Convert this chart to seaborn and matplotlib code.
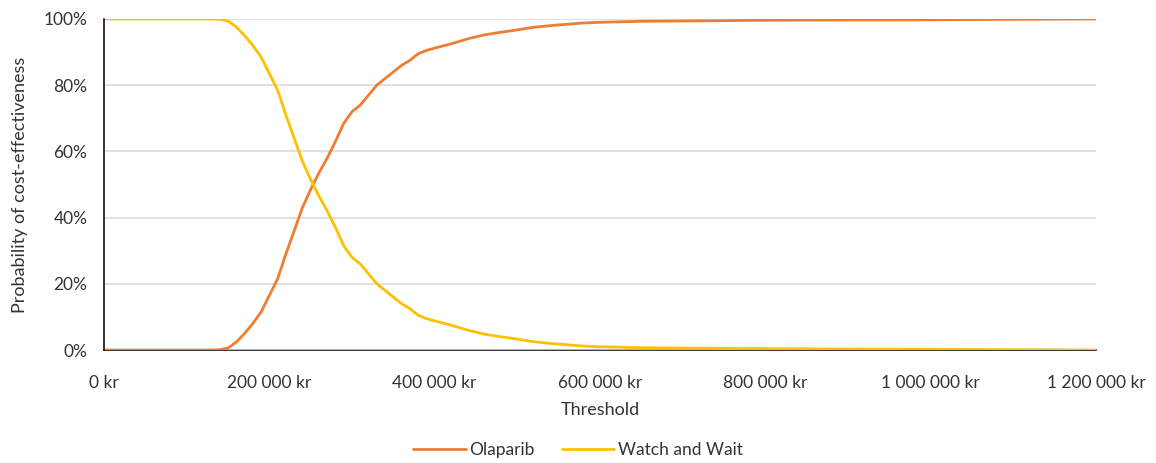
import pandas as pd
import matplotlib
matplotlib.use("Agg")
import matplotlib.pyplot as plt
import matplotlib.ticker as mticker
import seaborn as sns

# threshold in kr
thresholds = [0, 50000, 100000, 130000, 140000, 150000, 160000, 170000, 180000, 190000,
              200000, 210000, 220000, 230000, 240000, 250000, 260000, 270000, 280000, 290000,
              300000, 310000, 320000, 330000, 340000, 350000, 360000, 370000, 380000, 390000,
              400000, 420000, 440000, 460000, 480000, 500000, 520000, 540000, 560000, 580000,
              600000, 650000, 700000, 750000, 800000, 900000, 1000000, 1100000, 1200000]

olaparib = [0, 0, 0, 0, 0.1, 0.6, 2.4, 5, 8, 11.5,
            16.5, 21.5, 29, 36, 43, 48.5, 53.5, 58, 63, 68.5,
            72, 74, 77, 80, 82, 84, 86, 87.5, 89.5, 90.5,
            91.2, 92.5, 94, 95.2, 96, 96.7, 97.5, 98, 98.4, 98.8,
            99, 99.3, 99.4, 99.5, 99.6, 99.7, 99.75, 99.9, 100]

watch_wait = [100, 100, 100, 100, 99.9, 99.4, 97.6, 95, 92, 88.5,
              83.5, 78.5, 71, 64, 57, 51.5, 46.5, 42, 37, 31.5,
              28, 26, 23, 20, 18, 16, 14, 12.5, 10.5, 9.5,
              8.8, 7.5, 6, 4.8, 4, 3.3, 2.5, 2, 1.6, 1.2,
              1, 0.7, 0.6, 0.5, 0.4, 0.3, 0.25, 0.1, 0]

series = ["Olaparib", "Watch and Wait"]
colors = ["#ED7D31", "#FFC000"]

df = pd.DataFrame({
    "Threshold": thresholds * 2,
    "prob": [v / 100 for v in olaparib + watch_wait],
    "Strategy": [series[0]] * len(thresholds) + [series[1]] * len(thresholds),
})

sns.set_style("white")
plt.rcParams["font.family"] = ["Lato", "DejaVu Sans"]
txt = "#333333"

fig = plt.figure(figsize=(11.56, 4.63), dpi=100)
ax = fig.add_axes([0.09, 0.244, 0.858, 0.715])

ax.yaxis.grid(True, color="#D9D9D9", linewidth=1.1)
ax.set_axisbelow(True)
sns.lineplot(data=df, x="Threshold", y="prob", hue="Strategy", palette=colors,
             linewidth=2.0, ax=ax, legend=True)

ax.set_xlim(0, 1200000)
ax.set_ylim(0, 1)
ax.xaxis.set_major_locator(mticker.MultipleLocator(200000))
ax.yaxis.set_major_locator(mticker.MultipleLocator(0.2))


def kr(x, pos):
    s = f"{int(round(x)):,}".replace(",", " ")
    return f"{s} kr"


ax.xaxis.set_major_formatter(mticker.FuncFormatter(kr))
ax.yaxis.set_major_formatter(mticker.FuncFormatter(lambda y, p: f"{int(round(y * 100))}%"))
ax.tick_params(axis="both", length=0, labelsize=12.5, labelcolor=txt)
ax.tick_params(axis="x", pad=18)
ax.tick_params(axis="y", pad=12)

for s in ["top", "right"]:
    ax.spines[s].set_visible(False)
for s in ["left", "bottom"]:
    ax.spines[s].set_color("black")
    ax.spines[s].set_linewidth(1.1)
ax.spines["bottom"].set_zorder(0.5)

ax.set_xlabel("Threshold", fontsize=13, color=txt, labelpad=8)
ax.set_ylabel("Probability of cost-effectiveness", fontsize=13, color=txt, labelpad=11)

handles, labels = ax.get_legend_handles_labels()
ax.get_legend().remove()
leg = fig.legend(handles, labels, loc="center", bbox_to_anchor=(0.5, 0.028), ncol=2,
                 frameon=False, fontsize=12.5, handlelength=3.0, handletextpad=0.2,
                 columnspacing=1.6)
for t in leg.get_texts():
    t.set_color(txt)

fig.savefig("out.png", dpi=100)
